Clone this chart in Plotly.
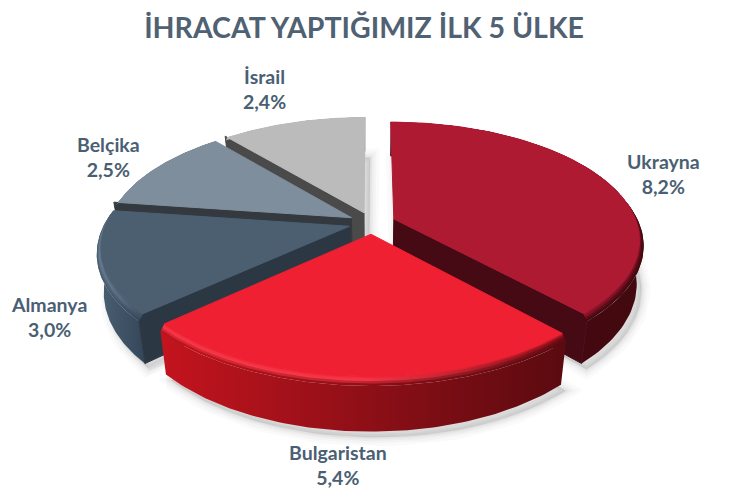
import numpy as np
import plotly.graph_objects as go

categories = ["Ukrayna", "Bulgaristan", "Almanya", "Belçika", "İsrail"]
values = [8.2, 5.4, 3.0, 2.5, 2.4]
title_text = "İHRACAT YAPTIĞIMIZ İLK 5 ÜLKE"

top_colors = ["#AE1A32", "#EE2032", "#4C5F70", "#7F8E9C", "#BBBBBB"]
wall_colors = ["#450A14", "#5E0A10", "#2C3744", "#33393F", "#4A4A4A"]
rim_left = ["#4A0A14", "#C4141E", "#4C6074", "#6A7886", "#A0A0A0"]
rim_right = ["#42090F", "#5A0A10", "#34475A", "#55626E", "#808080"]
mid_stops = [
    ["#B01C34", "#AE1A32", "#5A0A18"],
    ["#F63A4A", "#F63A4A", "#700A12"],
    ["#6A7E92", "#5A6E82", "#3A4C5E"],
    ["#8F9EAC", "#85949F", "#6A7886"],
    ["#C4C4C4", "#BBBBBB", "#A0A0A0"],
]
paint_order = [4, 3, 2, 0, 1]
label_pos = [(663, 174), (338, 465), (49, 317), (108, 157), (264, 89)]

CX, CY, F, K, C, EXPLODE, DEPTH = 372, 223, 248, 0.17, 0.47, 0.095, 0.17
BEVEL_R, BEVEL_Z, Q = 0.98, 0.02, 0.17
BLEND = [0.4, 0.8, 1.0, 1.5, 2.0]


def project(px, py, z=0.0):
    s = F / (1 - K * py)
    return CX + px * s * (1 - Q * z), CY + py * C * s + z * s


def arc(a0, a1, ox, oy, r=1.0, z=0.0):
    t = np.radians(np.linspace(a0, a1, 90))
    return project(ox + r * np.sin(t), oy - r * np.cos(t), z)


def rgb(h):
    return np.array([int(h[j:j + 2], 16) for j in (1, 3, 5)], float)


def mix(a, b, f):
    c = rgb(a) * (1 - f) + rgb(b) * f
    return "#%02X%02X%02X" % tuple(int(v) for v in c)


fig = go.Figure()
angles = np.cumsum([0] + values) / sum(values) * 360


def poly(x, y, color=None, gradient=None, edge=None):
    kw = dict(fillcolor=color) if color else dict(fillgradient=gradient)
    line = dict(width=1, color=edge) if edge else dict(width=0, color="rgba(0,0,0,0)")
    fig.add_trace(go.Scatter(x=list(x), y=list(y), mode="lines", fill="toself", line=line,
                             hoverinfo="skip", showlegend=False, **kw))


def hgrad(stops):
    n = len(stops) - 1
    return dict(type="horizontal", colorscale=[[i / n, c] for i, c in enumerate(stops)])


# soft shadows
for i in paint_order:
    a0, a1 = angles[i], angles[i + 1]
    mid = np.radians((a0 + a1) / 2)
    ox, oy = EXPLODE * np.sin(mid), -EXPLODE * np.cos(mid)
    ax, ay = project(ox, oy, DEPTH)
    bx, by = arc(a0, a1, ox, oy, 1.0, DEPTH)
    sx = np.r_[ax, bx, ax]
    sy = np.r_[ay, by, ay]
    for w, al in [(18, 0.02), (12, 0.025), (7, 0.03), (3, 0.035)]:
        fig.add_trace(go.Scatter(x=sx + 5, y=sy + 6, mode="lines", fill="toself",
                                 fillcolor=f"rgba(0,0,0,{al})",
                                 line=dict(width=w, color=f"rgba(0,0,0,{al})"),
                                 hoverinfo="skip", showlegend=False))

for i in paint_order:
    a0, a1 = angles[i], angles[i + 1]
    mid = np.radians((a0 + a1) / 2)
    ox, oy = EXPLODE * np.sin(mid), -EXPLODE * np.cos(mid)
    rim_stops = [rim_left[i], mix(rim_left[i], rim_right[i], 0.5), rim_right[i]]
    # outer rim
    ux, uy = arc(a0, a1, ox, oy, 1.0, BEVEL_Z)
    lx, ly = arc(a0, a1, ox, oy, 1.0, DEPTH)
    poly(np.r_[ux, lx[::-1]], np.r_[uy, ly[::-1]], gradient=hgrad(rim_stops))
    # radial walls, only those that face the viewer
    ax, ay = project(ox, oy, 0)
    mx, my = project(ox + 0.5 * np.sin(mid), oy - 0.5 * np.cos(mid), 0)
    for a in (a0, a1):
        t = np.radians(a)
        e = (ox + np.sin(t), oy - np.cos(t))
        ex, ey = project(*e, 0)
        side_down = (ex - ax)
        side_in = (ex - ax) * (my - ay) - (ey - ay) * (mx - ax)
        if side_down * side_in < -1e-6 and abs(ex - ax) > 5:
            p = [project(ox, oy, 0), project(*e, 0), project(*e, DEPTH), project(ox, oy, DEPTH)]
            poly([q[0] for q in p] + [p[0][0]], [q[1] for q in p] + [p[0][1]],
                 color=wall_colors[i], edge=wall_colors[i])
    # bevel: graded bands, outermost first, from rim colour through highlight to the top colour
    ix, iy = arc(a0, a1, ox, oy, BEVEL_R, 0)
    for f in BLEND[::-1]:
        bx, by = arc(a0, a1, ox, oy, BEVEL_R + (1 - BEVEL_R) * f / 2, BEVEL_Z * f / 2)
        if f <= 1:
            stops = [mix(top_colors[i], m, f) for m in mid_stops[i]]
        else:
            stops = [mix(m, r, f - 1) for m, r in zip(mid_stops[i], rim_stops)]
        poly(np.r_[ix, bx[::-1]], np.r_[iy, by[::-1]], gradient=hgrad(stops))
    # top face
    poly(np.r_[ax, ix, ax], np.r_[ay, iy, ay], color=top_colors[i], edge=top_colors[i])

for name, v, (lx, ly) in zip(categories, values, label_pos):
    fig.add_annotation(x=lx, y=ly, text=f"{name}<br>{str(v).replace('.', ',')}%", showarrow=False,
                       font=dict(family="Lato", size=19.5, color="#4A5F73", weight="bold"),
                       xanchor="center", yanchor="middle", align="center")

fig.update_layout(
    width=745, height=501, margin=dict(l=0, r=0, t=0, b=0),
    paper_bgcolor="white", plot_bgcolor="white", showlegend=False,
    title=dict(text=title_text, x=364 / 745, xanchor="center", y=1 - 28 / 501, yanchor="middle",
               font=dict(family="Lato", size=28.5, color="#4F6172", weight="bold")),
    xaxis=dict(range=[0, 745], visible=False, fixedrange=True),
    yaxis=dict(range=[501, 0], visible=False, fixedrange=True),
)
fig.write_html("out.html", config=dict(displayModeBar=False),
               post_script="document.body.style.margin='0';")
